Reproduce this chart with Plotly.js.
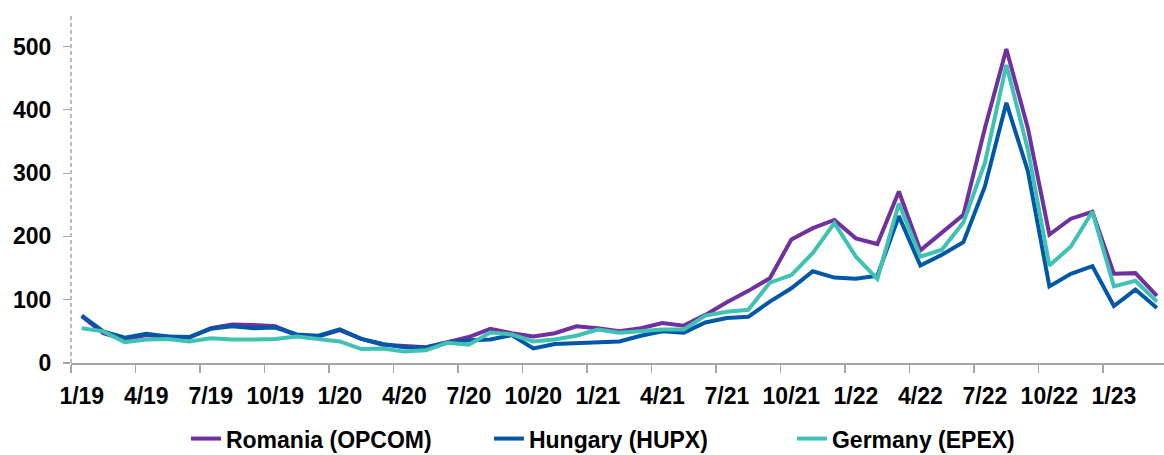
<!DOCTYPE html>
<html>
<head>
<meta charset="utf-8">
<script src="https://cdn.plot.ly/plotly-3.0.1.min.js"></script>
<style>
  html, body { margin: 0; padding: 0; background: #ffffff; }
  #chart { width: 1164px; height: 455px; }
</style>
</head>
<body>
<div id="chart"></div>
<script>
// Months (monthly average prices, EUR/MWh)
const months = [
  '1/19','2/19','3/19','4/19','5/19','6/19','7/19','8/19','9/19','10/19','11/19','12/19',
  '1/20','2/20','3/20','4/20','5/20','6/20','7/20','8/20','9/20','10/20','11/20','12/20',
  '1/21','2/21','3/21','4/21','5/21','6/21','7/21','8/21','9/21','10/21','11/21','12/21',
  '1/22','2/22','3/22','4/22','5/22','6/22','7/22','8/22','9/22','10/22','11/22','12/22',
  '1/23','2/23','3/23'
];

const tickLabels = ['1/19','4/19','7/19','10/19','1/20','4/20','7/20','10/20',
  '1/21','4/21','7/21','10/21','1/22','4/22','7/22','10/22','1/23'];

const romania = [
  74, 47, 37, 44, 42, 40, 55, 61, 60, 58, 44, 42,
  52, 38, 29, 27, 25, 33, 41, 54, 47, 42, 47, 58,
  55, 50, 55, 63, 59, 76, 96, 114, 134, 195, 213, 226,
  197, 188, 271, 178, 205, 234, 371, 496, 371, 203, 228, 239,
  141, 142, 106
];

const hungary = [
  75, 50, 40, 46, 42, 41, 54, 58, 55, 56, 45, 43,
  53, 38, 30, 25, 24, 32, 36, 37, 44, 23, 30, 31,
  33, 34, 43, 50, 48, 64, 71, 73, 97, 118, 145, 135,
  133, 138, 232, 154, 171, 191, 279, 411, 303, 121, 141, 153,
  90, 116, 87
];

const germany = [
  55, 50, 33, 37, 38, 34, 39, 37, 37, 38, 42, 38,
  34, 22, 23, 18, 20, 32, 29, 48, 45, 34, 37, 43,
  53, 48, 50, 53, 53, 75, 81, 84, 127, 139, 174, 221,
  168, 133, 252, 168, 179, 222, 316, 471, 337, 154, 184, 239,
  121, 130, 97
];

const seriesNames = ['Romania (OPCOM)', 'Hungary (HUPX)', 'Germany (EPEX)'];
const seriesColors = ['#7030A0', '#0057A8', '#3FC1B4'];

const xIdx = months.map((m, i) => i);
const tickIdx = tickLabels.map(t => months.indexOf(t));

const fontFamily = '"Liberation Sans", Arial, sans-serif';
const boldFont = { family: fontFamily, size: 23, color: '#000000', weight: 'bold' };

const traces = [romania, hungary, germany].map((vals, k) => ({
  type: 'scatter',
  mode: 'lines',
  x: xIdx,
  y: vals,
  name: seriesNames[k],
  line: { color: seriesColors[k], width: 4 },
  hoverinfo: 'x+y+name'
}));

const layout = {
  width: 1164,
  height: 455,
  margin: { l: 71, r: 0, t: 13, b: 92 },
  paper_bgcolor: '#ffffff',
  plot_bgcolor: '#ffffff',
  font: boldFont,
  showlegend: true,
  legend: {
    orientation: 'h',
    x: 0.521,
    xanchor: 'center',
    yref: 'container',
    y: 0.036,
    yanchor: 'middle',
    font: boldFont,
    entrywidth: 258,
    entrywidthmode: 'pixels',
    bgcolor: 'rgba(0,0,0,0)'
  },
  xaxis: {
    type: 'linear',
    range: [-0.5, 50.33],
    tickmode: 'array',
    tickvals: tickIdx,
    ticktext: tickLabels,
    ticks: '',
    ticklabelstandoff: 12,
    tickfont: boldFont,
    showgrid: false,
    zeroline: false,
    showline: true,
    linecolor: '#A6A6A6',
    linewidth: 1.5,
    minor: {
      tickmode: 'linear',
      tick0: -0.5,
      dtick: 3,
      ticks: 'outside',
      ticklen: 8,
      tickwidth: 1.5,
      tickcolor: '#A6A6A6',
      showgrid: false
    },
    fixedrange: true
  },
  yaxis: {
    range: [0, 553],
    tickmode: 'array',
    tickvals: [0, 100, 200, 300, 400, 500],
    ticks: 'outside',
    ticklen: 7,
    tickwidth: 1.2,
    tickcolor: '#A6A6A6',
    ticklabelstandoff: 7,
    tickfont: boldFont,
    showgrid: false,
    zeroline: false,
    showline: false,
    fixedrange: true
  },
  shapes: [{
    type: 'line',
    xref: 'paper', yref: 'paper',
    x0: 0, x1: 0, y0: 0, y1: 1,
    line: { color: '#A6A6A6', width: 1.5, dash: '4px,3px' },
    layer: 'below'
  }]
};

Plotly.newPlot('chart', traces, layout, { displayModeBar: false, staticPlot: true });
</script>
</body>
</html>
